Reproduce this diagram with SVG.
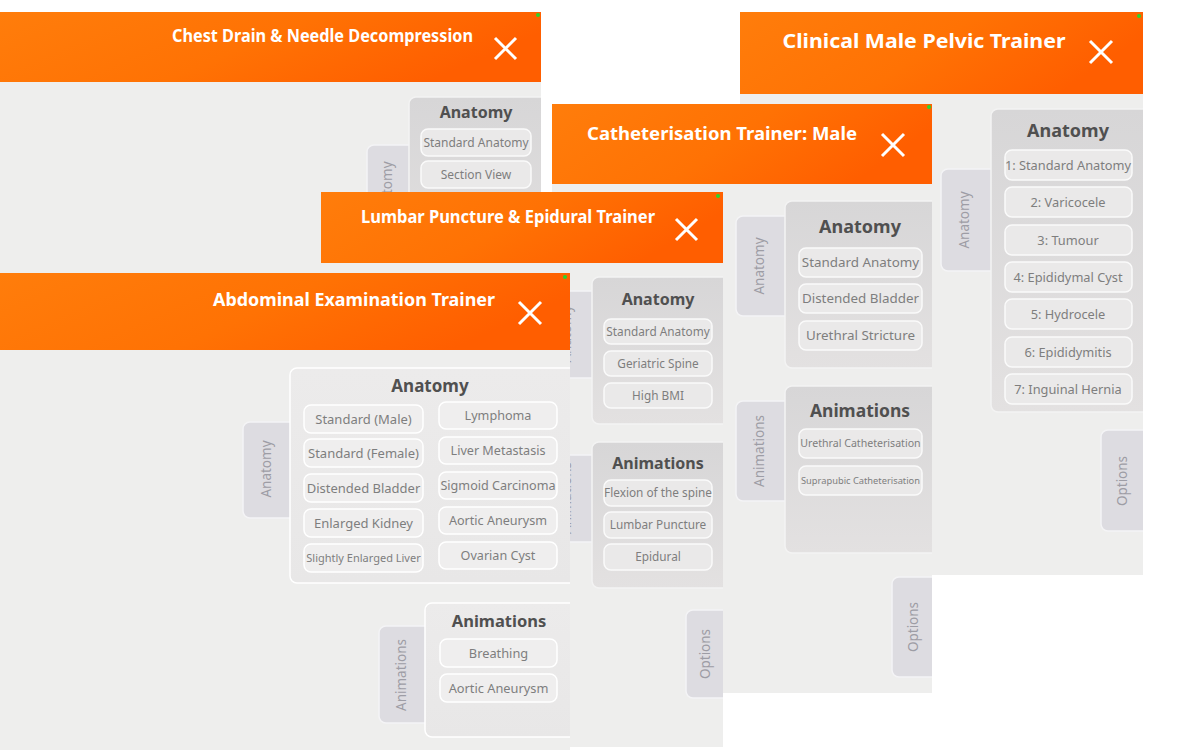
<svg xmlns="http://www.w3.org/2000/svg" width="1200" height="750" viewBox="0 0 1200 750">
<defs>
<linearGradient id="og" x1="0" y1="0" x2="1" y2="0.3">
<stop offset="0" stop-color="#FF7D0B"/><stop offset="0.55" stop-color="#FF7204"/><stop offset="1" stop-color="#FF5E00"/>
</linearGradient>
<linearGradient id="gb" x1="0" y1="0" x2="0" y2="1">
<stop offset="0" stop-color="#D7D6D7"/><stop offset="1" stop-color="#E3E1E1"/>
</linearGradient>
<linearGradient id="gl" x1="0" y1="0" x2="0" y2="1">
<stop offset="0" stop-color="#ECEBEB"/><stop offset="1" stop-color="#E8E7E7"/>
</linearGradient>
<clipPath id="cClin"><rect x="740" y="12" width="403" height="563"/></clipPath>
<clipPath id="cCath"><rect x="552" y="104" width="380" height="589"/></clipPath>
<clipPath id="cChest"><rect x="0" y="12" width="541" height="738"/></clipPath>
<clipPath id="cLumb"><rect x="321" y="192" width="402" height="555"/></clipPath>
<clipPath id="cAbd"><rect x="0" y="273" width="570" height="477"/></clipPath>
<style>
.bd{fill:#EEEEED}
.hdr{fill:url(#og)}
.box{fill:url(#gb);stroke:#F3F3F3;stroke-width:1.5}
.boxl{fill:url(#gl);stroke:#FFFFFF;stroke-width:1.5}
.tab{fill:#DDDCE1;stroke:#F4F4F6;stroke-width:1.5}
.btn{fill:#EAE9E9;stroke:#FAFAFA;stroke-width:1.5}
.btnl{fill:#EFEEEE;stroke:#FFFFFF;stroke-width:1.5}
.ht{font-family:"Noto Sans","Liberation Sans",sans-serif;font-weight:700;fill:#FFFFFF;text-anchor:middle;font-size:18px}
.bt{font-family:"Noto Sans","Liberation Sans",sans-serif;font-weight:700;fill:#505050;text-anchor:middle}
.lb{font-family:"Noto Sans","Liberation Sans",sans-serif;fill:#7E7E7E;text-anchor:middle}
.tt{font-family:"Noto Sans","Liberation Sans",sans-serif;fill:#9D9DA5;text-anchor:middle;font-size:13.5px}
.x{stroke:#FFFFFF;stroke-width:3;fill:none}
.dot{fill:#2CD42C}
</style>
</defs>
<rect x="0" y="0" width="1200" height="750" fill="#FFFFFF"/>

<g id="clinical" clip-path="url(#cClin)">
<rect class="bd" x="740" y="12" width="403" height="563"/>
<rect class="hdr" x="740" y="12" width="403" height="82"/>
<text class="ht" x="924" y="48" textLength="283" lengthAdjust="spacingAndGlyphs" style="font-size:20px">Clinical Male Pelvic Trainer</text>
<path class="x" d="M1090 41L1112 63M1112 41L1090 63"/>
<circle class="dot" cx="1139" cy="16" r="2"/>
<rect class="tab" x="941" y="169" width="60" height="102" rx="7"/>
<text class="tt" transform="translate(964,220) rotate(-90)" y="4.8">Anatomy</text>
<rect class="box" x="991" y="109" width="170" height="303" rx="7"/>
<text class="bt" x="1068" y="137" style="font-size:18px">Anatomy</text>
<g style="font-size:12.8px">
<rect class="btn" x="1005" y="150" width="127" height="30" rx="7"/><text class="lb" x="1068" y="169.6">1: Standard Anatomy</text>
<rect class="btn" x="1005" y="187" width="127" height="30" rx="7"/><text class="lb" x="1068" y="206.6">2: Varicocele</text>
<rect class="btn" x="1005" y="225" width="127" height="30" rx="7"/><text class="lb" x="1068" y="244.6">3: Tumour</text>
<rect class="btn" x="1005" y="262" width="127" height="30" rx="7"/><text class="lb" x="1068" y="281.6">4: Epididymal Cyst</text>
<rect class="btn" x="1005" y="299" width="127" height="30" rx="7"/><text class="lb" x="1068" y="318.6">5: Hydrocele</text>
<rect class="btn" x="1005" y="337" width="127" height="30" rx="7"/><text class="lb" x="1068" y="356.6">6: Epididymitis</text>
<rect class="btn" x="1005" y="374" width="127" height="30" rx="7"/><text class="lb" x="1068" y="393.6">7: Inguinal Hernia</text>
</g>
<rect class="tab" x="1101" y="430" width="60" height="101" rx="7"/>
<text class="tt" transform="translate(1122,481) rotate(-90)" y="4.8">Options</text>
</g>

<g id="chest-drain" clip-path="url(#cChest)">
<rect class="bd" x="0" y="12" width="541" height="738"/>
<rect class="hdr" x="0" y="12" width="541" height="70"/>
<text class="ht" x="322.5" y="42" textLength="301" lengthAdjust="spacingAndGlyphs">Chest Drain &amp; Needle Decompression</text>
<path class="x" d="M495 38L516 59M516 38L495 59"/>
<circle class="dot" cx="538" cy="15" r="2"/>
<rect class="tab" x="367" y="145" width="60" height="100" rx="7"/>
<text class="tt" transform="translate(387,190) rotate(-90)" y="4.8">Anatomy</text>
<rect class="box" x="409" y="97" width="150" height="200" rx="7"/>
<text class="bt" x="476" y="118" style="font-size:16px">Anatomy</text>
<g style="font-size:12px">
<rect class="btn" x="421" y="129" width="110" height="27" rx="7"/><text class="lb" x="476" y="146.8">Standard Anatomy</text>
<rect class="btn" x="421" y="161" width="110" height="27" rx="7"/><text class="lb" x="476" y="178.8">Section View</text>
</g>
</g>

<g id="catheterisation" clip-path="url(#cCath)">
<rect class="bd" x="552" y="104" width="380" height="589"/>
<rect class="hdr" x="552" y="104" width="380" height="80"/>
<text class="ht" x="722" y="140" textLength="270" lengthAdjust="spacingAndGlyphs">Catheterisation Trainer: Male</text>
<path class="x" d="M882 134L904 156M904 134L882 156"/>
<circle class="dot" cx="929" cy="107" r="2"/>
<rect class="tab" x="736" y="216" width="60" height="100" rx="7"/>
<text class="tt" transform="translate(759,266) rotate(-90)" y="4.8">Anatomy</text>
<rect class="box" x="785" y="201" width="160" height="167" rx="7"/>
<text class="bt" x="860" y="233" style="font-size:18px">Anatomy</text>
<g style="font-size:13.4px">
<rect class="btn" x="799" y="248" width="123" height="29" rx="7"/><text class="lb" x="860.5" y="267.3">Standard Anatomy</text>
<rect class="btn" x="799" y="284" width="123" height="29" rx="7"/><text class="lb" x="860.5" y="303.3">Distended Bladder</text>
<rect class="btn" x="799" y="321" width="123" height="29" rx="7"/><text class="lb" x="860.5" y="340.3">Urethral Stricture</text>
</g>
<rect class="tab" x="736" y="401" width="60" height="100" rx="7"/>
<text class="tt" transform="translate(759,451) rotate(-90)" y="4.8">Animations</text>
<rect class="box" x="785" y="386" width="160" height="167" rx="7"/>
<text class="bt" x="860" y="417" style="font-size:17.5px">Animations</text>
<rect class="btn" x="799" y="429" width="123" height="29" rx="7"/><text class="lb" x="860.5" y="447.3" style="font-size:10.6px">Urethral Catheterisation</text>
<rect class="btn" x="799" y="466" width="123" height="29" rx="7"/><text class="lb" x="860.5" y="483.8" style="font-size:9.3px">Suprapubic Catheterisation</text>
<rect class="tab" x="892" y="577" width="60" height="100" rx="7"/>
<text class="tt" transform="translate(913,627) rotate(-90)" y="4.8">Options</text>
</g>

<g id="lumbar-puncture" clip-path="url(#cLumb)">
<rect class="bd" x="321" y="192" width="402" height="555"/>
<rect class="hdr" x="321" y="192" width="402" height="71"/>
<text class="ht" x="508" y="223" textLength="294" lengthAdjust="spacingAndGlyphs">Lumbar Puncture &amp; Epidural Trainer</text>
<path class="x" d="M676 219L697 240M697 219L676 240"/>
<circle class="dot" cx="718" cy="196" r="2"/>
<rect class="tab" x="545" y="291" width="60" height="87" rx="7"/>
<text class="tt" transform="translate(566,334) rotate(-90)" y="4.8">Anatomy</text>
<rect class="box" x="592" y="277" width="150" height="147" rx="7"/>
<text class="bt" x="658" y="305" style="font-size:16px">Anatomy</text>
<g style="font-size:11.8px">
<rect class="btn" x="604" y="319" width="108" height="25" rx="7"/><text class="lb" x="658" y="335.7">Standard Anatomy</text>
<rect class="btn" x="604" y="351" width="108" height="25" rx="7"/><text class="lb" x="658" y="367.7">Geriatric Spine</text>
<rect class="btn" x="604" y="383" width="108" height="25" rx="7"/><text class="lb" x="658" y="399.7">High BMI</text>
</g>
<rect class="tab" x="545" y="455" width="60" height="87" rx="7"/>
<text class="tt" transform="translate(566,498) rotate(-90)" y="4.8">Animations</text>
<rect class="box" x="592" y="442" width="150" height="146" rx="7"/>
<text class="bt" x="658" y="469" style="font-size:16px">Animations</text>
<g style="font-size:11.8px">
<rect class="btn" x="604" y="480" width="108" height="26" rx="7"/><text class="lb" x="658" y="497.2">Flexion of the spine</text>
<rect class="btn" x="604" y="512" width="108" height="26" rx="7"/><text class="lb" x="658" y="529.2">Lumbar Puncture</text>
<rect class="btn" x="604" y="544" width="108" height="26" rx="7"/><text class="lb" x="658" y="561.2">Epidural</text>
</g>
<rect class="tab" x="686" y="610" width="60" height="88" rx="7"/>
<text class="tt" transform="translate(705,654) rotate(-90)" y="4.8">Options</text>
</g>

<g id="abdominal-examination" clip-path="url(#cAbd)">
<rect class="bd" x="0" y="273" width="570" height="477"/>
<rect class="hdr" x="0" y="273" width="570" height="77"/>
<text class="ht" x="354" y="306" textLength="282" lengthAdjust="spacingAndGlyphs">Abdominal Examination Trainer</text>
<path class="x" d="M519 302L541 324M541 302L519 324"/>
<circle class="dot" cx="565" cy="277" r="2"/>
<rect class="tab" x="243" y="422" width="60" height="96" rx="7"/>
<text class="tt" transform="translate(266,469) rotate(-90)" y="4.8">Anatomy</text>
<rect class="boxl" x="290" y="368" width="300" height="215" rx="7"/>
<text class="bt" x="430" y="392" style="font-size:17px">Anatomy</text>
<g style="font-size:13px">
<rect class="btnl" x="304" y="405" width="119" height="28" rx="7"/><text class="lb" x="363.5" y="423.7">Standard (Male)</text>
<rect class="btnl" x="304" y="439" width="119" height="28" rx="7"/><text class="lb" x="363.5" y="457.7">Standard (Female)</text>
<rect class="btnl" x="304" y="474" width="119" height="28" rx="7"/><text class="lb" x="363.5" y="492.7">Distended Bladder</text>
<rect class="btnl" x="304" y="509" width="119" height="28" rx="7"/><text class="lb" x="363.5" y="527.7">Enlarged Kidney</text>
<rect class="btnl" x="304" y="544" width="119" height="28" rx="7"/><text class="lb" x="363.5" y="562" style="font-size:11px">Slightly Enlarged Liver</text>
</g>
<g style="font-size:12.6px">
<rect class="btnl" x="439" y="402" width="118" height="27" rx="7"/><text class="lb" x="498" y="420">Lymphoma</text>
<rect class="btnl" x="439" y="437" width="118" height="27" rx="7"/><text class="lb" x="498" y="455">Liver Metastasis</text>
<rect class="btnl" x="439" y="472" width="118" height="27" rx="7"/><text class="lb" x="498" y="490">Sigmoid Carcinoma</text>
<rect class="btnl" x="439" y="507" width="118" height="27" rx="7"/><text class="lb" x="498" y="525">Aortic Aneurysm</text>
<rect class="btnl" x="439" y="542" width="118" height="27" rx="7"/><text class="lb" x="498" y="560">Ovarian Cyst</text>
</g>
<rect class="tab" x="379" y="626" width="60" height="97" rx="7"/>
<text class="tt" transform="translate(401,675) rotate(-90)" y="4.8">Animations</text>
<rect class="boxl" x="425" y="603" width="170" height="134" rx="7"/>
<text class="bt" x="499" y="627" style="font-size:16.5px">Animations</text>
<g style="font-size:12.8px">
<rect class="btnl" x="440" y="639" width="117" height="28" rx="7"/><text class="lb" x="498.5" y="657.6">Breathing</text>
<rect class="btnl" x="440" y="674" width="117" height="28" rx="7"/><text class="lb" x="498.5" y="692.6">Aortic Aneurysm</text>
</g>
</g>
</svg>
